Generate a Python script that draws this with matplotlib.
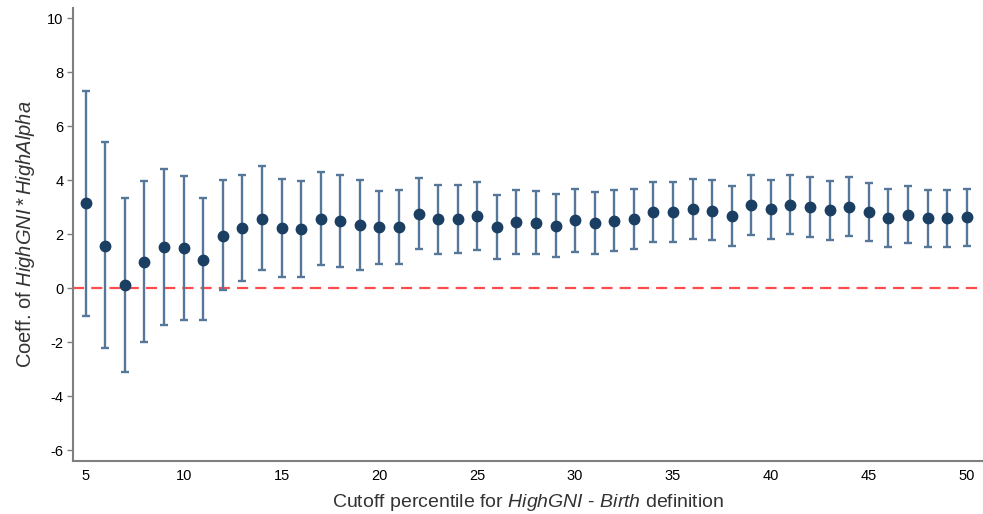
import matplotlib
matplotlib.use("Agg")
import matplotlib.pyplot as plt
import numpy as np

plt.rcParams['font.family'] = ['Liberation Sans', 'DejaVu Sans']
plt.rcParams['mathtext.fontset'] = 'custom'
plt.rcParams['mathtext.rm'] = 'Liberation Sans'
plt.rcParams['mathtext.it'] = 'Liberation Sans:italic'
plt.rcParams['axes.unicode_minus'] = False

# Cutoff percentiles and estimated coefficients with 95% CI bounds
cutoff = list(range(5, 51))
coef = [3.14, 1.57, 0.11, 0.98, 1.52, 1.48, 1.06, 1.94, 2.23, 2.58,
        2.23, 2.19, 2.58, 2.49, 2.35, 2.25, 2.27, 2.76, 2.56, 2.57,
        2.68, 2.25, 2.46, 2.43, 2.31, 2.52, 2.40, 2.49, 2.56, 2.81,
        2.81, 2.94, 2.86, 2.68, 3.07, 2.94, 3.10, 3.00, 2.88, 3.01,
        2.81, 2.60, 2.70, 2.59, 2.59, 2.62]
ci_upper = [7.30, 5.42, 3.33, 3.98, 4.41, 4.16, 3.33, 4.00, 4.21, 4.52,
            4.04, 3.96, 4.31, 4.19, 4.02, 3.60, 3.63, 4.07, 3.84, 3.84,
            3.94, 3.44, 3.65, 3.60, 3.49, 3.68, 3.56, 3.63, 3.69, 3.94,
            3.95, 4.06, 4.00, 3.80, 4.20, 4.02, 4.20, 4.12, 3.98, 4.12,
            3.90, 3.69, 3.79, 3.65, 3.65, 3.68]
ci_lower = [-1.02, -2.23, -3.11, -1.98, -1.35, -1.17, -1.17, -0.07, 0.26, 0.67,
            0.41, 0.42, 0.86, 0.78, 0.69, 0.88, 0.91, 1.44, 1.27, 1.30,
            1.43, 1.07, 1.28, 1.25, 1.14, 1.36, 1.26, 1.37, 1.44, 1.70,
            1.70, 1.83, 1.77, 1.57, 1.96, 1.84, 2.00, 1.91, 1.80, 1.95,
            1.74, 1.53, 1.68, 1.53, 1.53, 1.56]

x_ticks = [5, 10, 15, 20, 25, 30, 35, 40, 45, 50]
y_ticks = [-6, -4, -2, 0, 2, 4, 6, 8, 10]

x = np.array(cutoff)
c = np.array(coef)
yerr = np.vstack([c - np.array(ci_lower), np.array(ci_upper) - c])

fig = plt.figure(figsize=(9.83, 5.14), dpi=100)
ax = fig.add_axes([0.0743, 0.103, 0.925, 0.881])

ax.axhline(0, color='#ff4b4b', linestyle=(0, (5, 3.2)), linewidth=1.6, zorder=1)

ax.errorbar(x, c, yerr=yerr, fmt='none', ecolor='#55779a', elinewidth=1.7,
            capsize=3.0, capthick=1.7, zorder=2)
ax.plot(x, c, 'o', color='#1b3f63', markersize=7.5, zorder=3)

ax.set_xlim(4.35, 50.8)
ax.set_ylim(-6.4, 10.37)
ax.set_xticks(x_ticks)
ax.set_yticks(y_ticks)

for side in ['top', 'right']:
    ax.spines[side].set_visible(False)
for side in ['left', 'bottom']:
    ax.spines[side].set_color('#7f7f7f')
    ax.spines[side].set_linewidth(1.5)

ax.tick_params(axis='y', length=4, width=1, color='#7f7f7f', labelsize=10.5, pad=3)
ax.tick_params(axis='x', length=0, labelsize=10.5, pad=6)

ax.set_xlabel('Cutoff percentile for $\\it{HighGNI}$ - $\\it{Birth}$ definition',
              fontsize=14, color='#333333', labelpad=6)
ax.set_ylabel('Coeff. of $\\it{HighGNI*HighAlpha}$', fontsize=14.5,
              color='#333333', labelpad=7)

fig.savefig('out.png', dpi=100)
